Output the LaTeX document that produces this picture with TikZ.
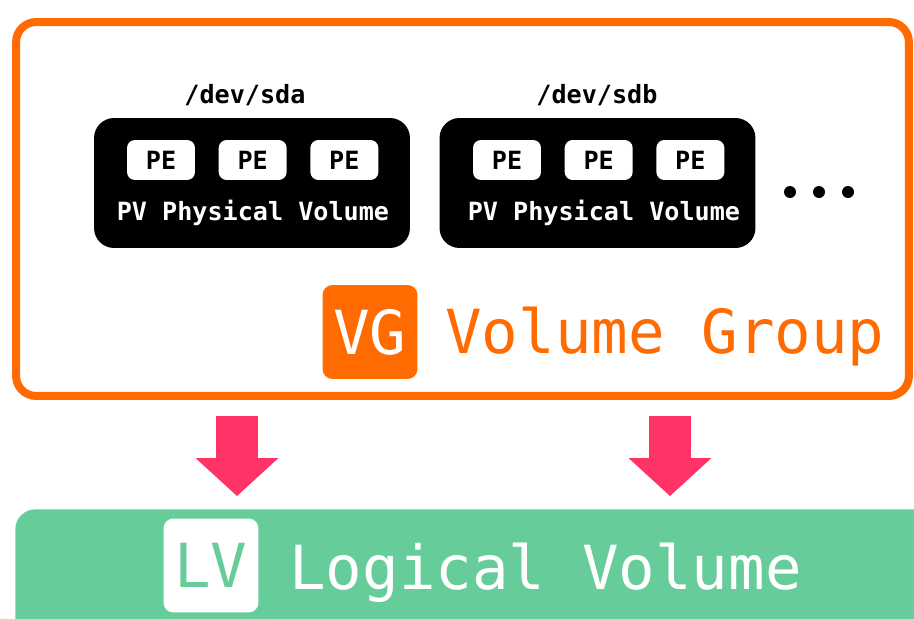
\documentclass[tikz,border=0pt]{standalone}
\usepackage{fontspec}
\setmonofont{DejaVu Sans Mono}
\usetikzlibrary{positioning,arrows.meta}
\definecolor{vgorange}{HTML}{FF6B00}
\definecolor{lvgreen}{HTML}{66CC99}
\definecolor{arrowpink}{HTML}{FF3366}
\newcommand{\bigtxt}{\ttfamily\fontsize{34.6pt}{40pt}\selectfont}
\newcommand{\smalltxt}{\ttfamily\bfseries\fontsize{14.3pt}{17pt}\selectfont}

\begin{document}
\begin{tikzpicture}[x=0.02cm, y=-0.02cm, node distance=0.46cm,
    vgbox/.style = {draw=vgorange, line width=0.16cm, rounded corners=0.4cm, minimum width=17.86cm, minimum height=7.48cm},
    pvbox/.style = {fill=black, rounded corners=0.4cm, minimum width=6.32cm, minimum height=2.6cm},
    pe/.style = {fill=white, rounded corners=0.16cm, minimum width=1.36cm, minimum height=0.8cm, inner sep=0pt, font=\smalltxt},
    pvlabel/.style = {text=white, font=\smalltxt},
    devlabel/.style = {font=\smalltxt},
    badge/.style = {rounded corners=0.2cm, minimum width=1.9cm, minimum height=1.88cm, inner sep=0pt, font=\bigtxt},
    dot/.style = {circle, fill=black, minimum size=0.24cm, inner sep=0pt},
    bigarrow/.style = {color=arrowpink, line width=0.84cm, -{Triangle[length=0.76cm, width=1.66cm, line width=0pt]}}]
    \clip (0,0) rectangle (914,619);
    \useasboundingbox (0,0) rectangle (914,619);
    % volume group
    \node[vgbox] (vg) at (462.5,209) {};
    \node[pvbox] (pv1) at (252,183) {};
    \node[pvbox] (pv2) at (597.5,183) {};
    \node[devlabel] (sda) at (245,95) {/dev/sda};
    \node[devlabel] (sdb) at (597,95) {/dev/sdb};
    \node[pe] (pe1) at (161,160) {PE};
    \node[pe] (pe2) [right=of pe1] {PE};
    \node[pe] (pe3) [right=of pe2] {PE};
    \node[pe] (pe4) at (507,160) {PE};
    \node[pe] (pe5) [right=of pe4] {PE};
    \node[pe] (pe6) [right=of pe5] {PE};
    \node[pvlabel] (pvl1) at (253,213) {PV Physical Volume};
    \node[pvlabel] (pvl2) at (604,213) {PV Physical Volume};
    \node[dot] (d1) at (790,192) {};
    \node[dot] (d2) at (819,192) {};
    \node[dot] (d3) at (848,192) {};
    \node[badge, fill=vgorange, text=white] (vgb) at (370,332) {VG};
    \node[anchor=base west, inner sep=0pt, text=vgorange, font=\bigtxt] (vgt) at (445,353) {Volume Group};
    % logical volume
    \node[fill=lvgreen, rounded corners=0.4cm, minimum width=18.6cm, minimum height=3cm, anchor=north west] (lv) at (15,509) {};
    \node[badge, fill=white, text=lvgreen] (lvb) at (211,565.5) {LV};
    \node[anchor=base west, inner sep=0pt, text=white, font=\bigtxt] (lvt) at (289,589) {Logical Volume};
    % arrows
    \coordinate (a1s) at (237,416);
    \coordinate (a1e) at (237,496);
    \coordinate (a2s) at (670,416);
    \coordinate (a2e) at (670,496);
    \path[bigarrow] (a1s) edge (a1e)
        (a2s) edge (a2e);
\end{tikzpicture}
\end{document}
